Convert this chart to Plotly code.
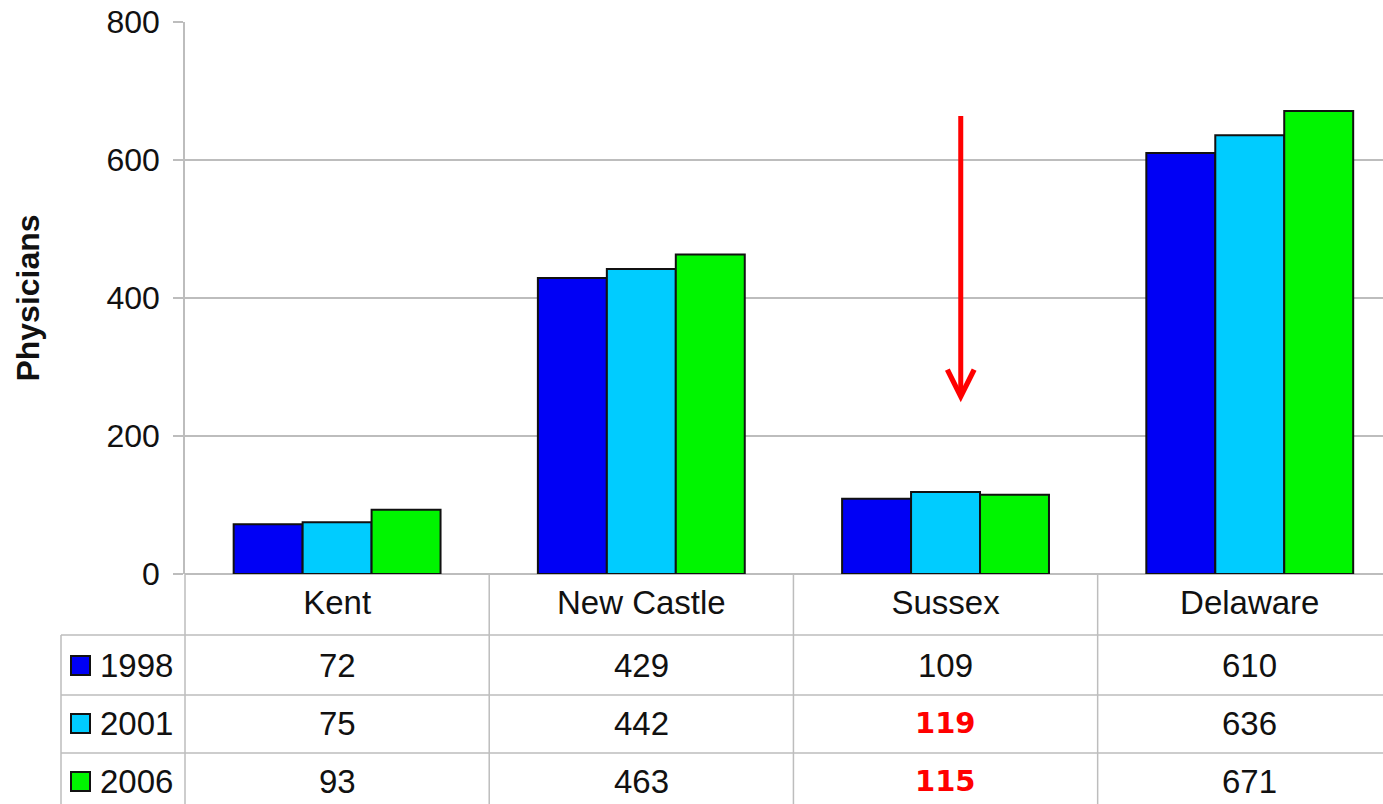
import plotly.graph_objects as go

categories = ["Kent", "New Castle", "Sussex", "Delaware"]
years = ["1998", "2001", "2006"]
v1998 = [72, 429, 109, 610]
v2001 = [75, 442, 119, 636]
v2006 = [93, 463, 115, 671]
series = [v1998, v2001, v2006]
colors = ["#0000F5", "#00CCFF", "#00F500"]
highlight = {("2001", "Sussex"), ("2006", "Sussex")}
y_ticks = [0, 200, 400, 600, 800]

W, H = 1383, 804
L, T, B = 185, 22, 230
plot_h = H - T - B
plot_w = W - L
FONT = "Liberation Sans, Arial, sans-serif"
FS = 32


def py(pix):
    return (H - B - pix) / plot_h


def px(pix):
    return (pix - L) / plot_w


fig = go.Figure()
for yr, vals, col in zip(years, series, colors):
    fig.add_trace(go.Bar(x=categories, y=vals, name=yr, marker=dict(color=col, line=dict(color="#111111", width=2))))

shapes = []
annotations = []
grid_col = "#BDBDBD"
# table horizontal lines
for pix in [635, 695, 753]:
    shapes.append(dict(type="line", xref="paper", yref="paper", x0=px(61), x1=1, y0=py(pix), y1=py(pix),
                       line=dict(color=grid_col, width=1.5)))
# table left border
shapes.append(dict(type="line", xref="paper", yref="paper", x0=px(61), x1=px(61), y0=py(635), y1=py(810),
                   line=dict(color=grid_col, width=1.5)))
shapes.append(dict(type="line", xref="paper", yref="paper", x0=0, x1=0, y0=0, y1=py(810),
                   line=dict(color=grid_col, width=1.5)))
# category separators
for i in range(len(categories) - 1):
    shapes.append(dict(type="line", xref="x", yref="paper", x0=i + 0.5, x1=i + 0.5, y0=0, y1=py(810),
                       line=dict(color=grid_col, width=1.5)))

row_centers = [665, 723, 781]
for r, (yr, vals, col) in enumerate(zip(years, series, colors)):
    yc = py(row_centers[r])
    # legend key
    shapes.append(dict(type="rect", xref="paper", yref="paper", x0=px(71), x1=px(90),
                       y0=yc - 10 / plot_h, y1=yc + 9 / plot_h,
                       fillcolor=col, line=dict(color="#111111", width=2)))
    annotations.append(dict(xref="paper", yref="paper", x=px(98), y=yc, text=yr, showarrow=False,
                            xanchor="left", yanchor="middle", font=dict(family=FONT, size=FS + 1, color="#111111")))
    for c, (cat, v) in enumerate(zip(categories, vals)):
        if (yr, cat) in highlight:
            f = dict(family="DejaVu Sans, Verdana, sans-serif", size=29, color="#FF0000")
            txt = "<b>%d</b>" % v
        else:
            f = dict(family=FONT, size=FS + 1, color="#111111")
            txt = str(v)
        annotations.append(dict(xref="x", yref="paper", x=c, y=yc, text=txt, showarrow=False,
                                xanchor="center", yanchor="middle", font=f))

# red arrow
annotations.append(dict(xref="x", yref="y", x=2.05, y=249, axref="x", ayref="y", ax=2.05, ay=666,
                        text="", showarrow=True, arrowhead=5, arrowsize=1.05, arrowwidth=5,
                        arrowcolor="#FF0000"))

fig.update_layout(
    width=W, height=H,
    margin=dict(l=L, r=0, t=T, b=B),
    paper_bgcolor="white", plot_bgcolor="white",
    barmode="group", bargap=0.32, bargroupgap=0,
    showlegend=False,
    shapes=shapes, annotations=annotations,
    font=dict(family=FONT, color="#111111"),
)
fig.update_xaxes(range=[-0.5, 3.438], showgrid=False, showline=False, ticks="",
                 tickfont=dict(family=FONT, size=FS + 1, color="#111111"), ticklabelstandoff=6)
fig.update_yaxes(range=[0, 800], tickvals=y_ticks, showgrid=True, gridcolor=grid_col, gridwidth=1.5,
                 showline=True, linecolor=grid_col, linewidth=1.5, ticks="outside", ticklen=10,
                 tickcolor=grid_col, tickwidth=1.5, zeroline=True, zerolinecolor=grid_col, zerolinewidth=1.5,
                 tickfont=dict(family=FONT, size=FS, color="#111111"), ticklabelstandoff=7,
                 title=dict(text="<b>Physicians</b>", font=dict(family=FONT, size=32, color="#111111"), standoff=57))

fig.write_html("out.html", config={"displayModeBar": False},
               post_script="document.body.style.margin='0';document.body.style.overflow='hidden';")
